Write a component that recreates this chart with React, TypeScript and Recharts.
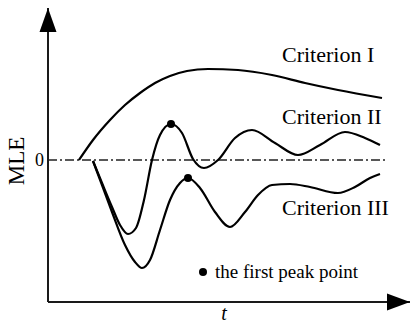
import React from 'react';
import { LineChart, Line, XAxis, YAxis, ReferenceLine, ReferenceDot } from 'recharts';

const FONT = '"Liberation Serif", "Times New Roman", serif';

// Criterion I (time, MLE)
const critITime = [3.1, 4.5, 6.2, 7.7, 9.2, 10.7, 12.2, 13.9, 16.0, 19.0, 22.4, 25.7, 29.0, 33.4];
const critIValue = [0, 2.0, 4.0, 5.5, 6.7, 7.7, 8.4, 8.9, 9.1, 9.0, 8.5, 7.7, 7.0, 6.2];

// Criterion II
const critIITime = [4.5, 5.4, 6.4, 7.2, 8.0, 8.8, 9.6, 10.4, 11.2, 12.3, 13.4, 14.5, 15.6, 17.0, 18.7, 20.4, 22.7, 25.0, 27.2, 29.7, 31.7, 33.2];
const critIIValue = [-0.1, -2.3, -4.7, -6.5, -7.4, -6.8, -4.0, 0, 2.5, 3.6, 2.7, 0.1, -0.8, 0, 2.2, 3.0, 1.7, 0.5, 1.5, 2.8, 2.2, 1.5];

// Criterion III
const critIIITime = [4.5, 5.4, 6.4, 7.7, 8.7, 9.4, 10.2, 11.2, 12.2, 13.2, 14.0, 15.2, 16.7, 18.2, 19.7, 21.0, 22.4, 24.2, 26.2, 29.0, 30.7, 32.2, 33.2];
const critIIIValue = [-0.1, -2.5, -5.2, -8.5, -10.2, -10.8, -10.0, -7.0, -4.0, -2.3, -1.8, -2.8, -5.2, -6.7, -5.2, -3.5, -2.5, -2.4, -2.7, -3.3, -2.7, -1.8, -1.4];

// first peak points
const peakTime = [12.3, 14.0];
const peakValue = [3.6, -1.8];

// text labels
const seriesLabels = ['Criterion I', 'Criterion II', 'Criterion III'];
const labelTime = [23.4, 23.4, 23.4];
const labelValue = [9.8, 3.6, -5.5];
const legendText = 'the first peak point';
const legendDot = { t: 15.5, v: -11.2 };
const legendTextPos = { t: 16.7, v: -11.8 };

const X_DOMAIN: [number, number] = [0, 36.2];
const Y_DOMAIN: [number, number] = [-14.2, 15.2];
const ZERO_LINE_END = 34;

const zip = (ts: number[], vs: number[]) => ts.map((t, i) => ({ t, v: vs[i] }));
const dataI = zip(critITime, critIValue);
const dataII = zip(critIITime, critIIValue);
const dataIII = zip(critIIITime, critIIIValue);

const textShape = (txt: string, size: number) => (p: any) => (
  <text x={p.cx} y={p.cy} fontFamily={FONT} fontSize={size} fill="#000">{txt}</text>
);

export default function App() {
  return (
    <div style={{ position: 'absolute', left: 0, top: 0, background: '#fff' }}>
      <LineChart width={410} height={323} margin={{ top: 8, right: 0, bottom: 0, left: 0 }}>
        <XAxis
          type="number"
          dataKey="t"
          domain={X_DOMAIN}
          allowDataOverflow
          tick={false}
          tickLine={false}
          height={21}
          axisLine={{ stroke: '#1a1a1a', strokeWidth: 2 }}
          label={{
            content: (p: any) => (
              <text x={p.viewBox.x + 176} y={p.viewBox.y + 18} fontFamily={FONT} fontStyle="italic" fontSize={20} textAnchor="middle" fill="#000">t</text>
            ),
          }}
        />
        <YAxis
          type="number"
          domain={Y_DOMAIN}
          allowDataOverflow
          ticks={[0]}
          tickLine={false}
          tickSize={0}
          tickMargin={4}
          width={48}
          tick={{ fontFamily: FONT, fontSize: 18, fill: '#000' }}
          axisLine={{ stroke: '#1a1a1a', strokeWidth: 2 }}
          label={{
            content: () => {
              const x = 24;
              const y = 161;
              return (
                <text x={x} y={y} transform={`rotate(-90, ${x}, ${y})`} fontFamily={FONT} fontSize={23} textAnchor="middle" fill="#000">MLE</text>
              );
            },
          }}
        />
        <ReferenceLine
          segment={[{ x: 0, y: 0 }, { x: ZERO_LINE_END, y: 0 }]}
          stroke="#222"
          strokeWidth={1.3}
          strokeDasharray="9 3 2 3"
          ifOverflow="visible"
        />
        <Line data={dataI} dataKey="v" type="monotone" stroke="#000" strokeWidth={2.2} dot={false} isAnimationActive={false} />
        <Line data={dataII} dataKey="v" type="monotone" stroke="#000" strokeWidth={2.2} dot={false} isAnimationActive={false} />
        <Line data={dataIII} dataKey="v" type="monotone" stroke="#000" strokeWidth={2.2} dot={false} isAnimationActive={false} />
        {peakTime.map((t, i) => (
          <ReferenceDot key={'pk' + i} x={t} y={peakValue[i]} r={4} fill="#000" stroke="none" ifOverflow="visible" />
        ))}
        <ReferenceDot x={legendDot.t} y={legendDot.v} r={4} fill="#000" stroke="none" ifOverflow="visible" />
        <ReferenceDot x={legendTextPos.t} y={legendTextPos.v} r={1} ifOverflow="visible" shape={textShape(legendText, 19)} />
        {seriesLabels.map((s, i) => (
          <ReferenceDot key={'lb' + i} x={labelTime[i]} y={labelValue[i]} r={1} ifOverflow="visible" shape={textShape(s, 22)} />
        ))}
        <ReferenceDot
          x={X_DOMAIN[1]}
          y={Y_DOMAIN[0]}
          r={1}
          ifOverflow="visible"
          shape={(p: any) => (
            <polygon points={`${p.cx},${p.cy} ${p.cx - 23},${p.cy - 8.5} ${p.cx - 23},${p.cy + 8.5}`} fill="#000" />
          )}
        />
        <ReferenceDot
          x={X_DOMAIN[0]}
          y={Y_DOMAIN[1]}
          r={1}
          ifOverflow="visible"
          shape={(p: any) => (
            <polygon points={`${p.cx},${p.cy} ${p.cx - 8.5},${p.cy + 24} ${p.cx + 8.5},${p.cy + 24}`} fill="#000" />
          )}
        />
      </LineChart>
    </div>
  );
}
